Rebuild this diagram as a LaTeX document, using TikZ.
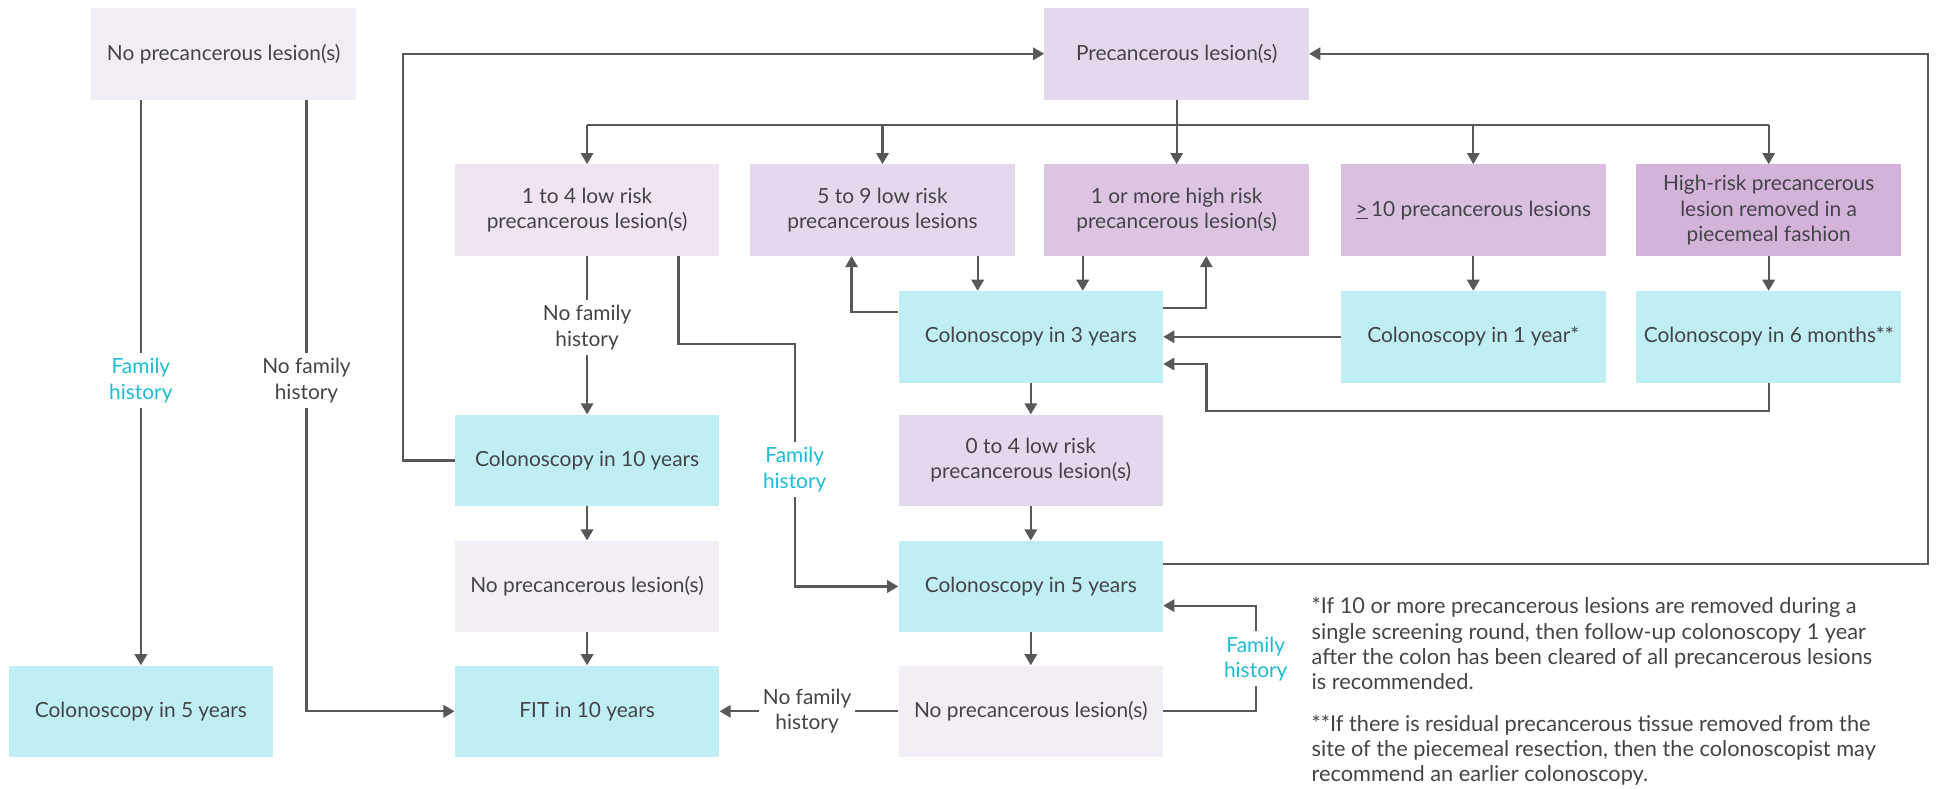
\documentclass[tikz,border=0pt]{standalone}
\usepackage{fontspec}
\setmainfont{Lato}
\usepackage{xcolor}
\usetikzlibrary{arrows.meta, calc}

\definecolor{lavpale}{HTML}{F3EEF6}
\definecolor{lavlight}{HTML}{F0E4F2}
\definecolor{lavmid}{HTML}{E6D8EC}
\definecolor{lavhigh}{HTML}{DCC5E2}
\definecolor{lavten}{HTML}{D9BFE0}
\definecolor{lavdeep}{HTML}{D4B3DB}
\definecolor{cyanbox}{HTML}{BFEEF4}
\definecolor{linegray}{HTML}{58585A}
\definecolor{txtgray}{HTML}{444448}
\definecolor{famcyan}{HTML}{1CBCD6}

\begin{document}
\begin{tikzpicture}[x=1pt, y=1pt,
		box/.style={rectangle, minimum width=214pt, minimum height=74pt, inner sep=0pt, align=center, text=txtgray},
		lbl/.style={align=center, inner sep=4pt, text=txtgray},
		fam/.style={lbl, text=famcyan},
		note/.style={anchor=north west, align=left, inner sep=0pt, text=txtgray, font=\fontsize{17.6}{20.6}\selectfont},
		arr/.style={-{Triangle[length=9pt,width=10pt]}},
		font=\fontsize{16.9}{20.5}\selectfont]
				\useasboundingbox (0,0) rectangle (1568,-638);
				\def\colA{114};
				\def\colB{475};
				\def\colC{714};
				\def\colD{834};
				\def\colE{952};
				\def\colF{1192};
				\def\colG{1431};

				% boxes
				\node [box, fill=lavpale] (nolestop) at (181,-43.5) {No precancerous lesion(s)};
				\node [box, fill=lavmid] (pl) at (\colE,-43.5) {Precancerous lesion(s)};

				\node [box, fill=lavlight] (lo14) at (\colB,-170) {1 to 4 low risk\\precancerous lesion(s)};
				\node [box, fill=lavmid] (lo59) at (\colC,-170) {5 to 9 low risk\\precancerous lesions};
				\node [box, fill=lavhigh] (hr) at (\colE,-170) {1 or more high risk\\precancerous lesion(s)};
				\node [box, fill=lavten] (ge10) at (\colF,-170) {\underline{>}\,10 precancerous lesions};
				\node [box, fill=lavdeep] (pw) at (\colG,-170) {High-risk precancerous\\lesion removed in a\\piecemeal fashion};

				\node [box, fill=cyanbox] (c3) at (\colD,-272.5) {Colonoscopy in 3 years};
				\node [box, fill=cyanbox] (c1) at (\colF,-272.5) {Colonoscopy in 1 year*};
				\node [box, fill=cyanbox] (c6) at (\colG,-272.5) {Colonoscopy in 6 months**};

				\node [box, fill=cyanbox] (c10) at (\colB,-372.5) {Colonoscopy in 10 years};
				\node [box, fill=lavmid] (lo04) at (\colD,-372.5) {0 to 4 low risk\\precancerous lesion(s)};

				\node [box, fill=lavpale] (nlm) at (\colB,-474.5) {No precancerous lesion(s)};
				\node [box, fill=cyanbox] (c5m) at (\colD,-474.5) {Colonoscopy in 5 years};

				\node [box, fill=cyanbox] (c5l) at (\colA,-575.5) {Colonoscopy in 5 years};
				\node [box, fill=cyanbox] (fit) at (\colB,-575.5) {FIT in 10 years};
				\node [box, fill=lavpale] (nlb) at (\colD,-575.5) {No precancerous lesion(s)};

				% branch labels
				\node [fam] (fh1) at (\colA,-308) {Family\\history};
				\node [lbl] (nfh1) at (248,-308) {No family\\history};
				\node [lbl] (nfh2) at (\colB,-265) {No family\\history};
				\node [fam] (fh2) at (643,-380) {Family\\history};
				\node [lbl, inner xsep=3pt] (nfh3) at (653,-575.5) {No family\\history};
				\node [fam] (fh3) at (1016,-533) {Family\\history};

				% notes
				\node [note] (note1) at (1061,-483)
					{*If 10 or more precancerous lesions are removed during a\\single screening round, then follow-up colonoscopy 1 year\\after the colon has been cleared of all precancerous lesions\\is recommended.};
				\node [note] (note2) at (1061,-578)
					{**If there is residual precancerous tissue removed from the\\site of the piecemeal resection, then the colonoscopist may\\recommend an earlier colonoscopy.};

				\begin{scope}[line width=1.8pt, draw=linegray, color=linegray]
					% from precancerous lesion(s)
					\coordinate (bus) at (0,-101);
					\draw (lo14.north |- bus) -- (pw.north |- bus);
					\draw [arr] (pl.south) -- (hr.north);
					\draw [arr] (lo14.north |- bus) -- (lo14.north);
					\draw [arr] (lo59.north |- bus) -- (lo59.north);
					\draw [arr] (ge10.north |- bus) -- (ge10.north);
					\draw [arr] (pw.north |- bus) -- (pw.north);

					% no precancerous lesion(s), top
					\draw (nolestop.south -| fh1) -- (fh1);
					\draw [arr] (fh1) -- (c5l.north);
					\draw (nolestop.south -| nfh1) -- (nfh1);
					\draw [arr] (nfh1) |- (fit.west);

					% 1 to 4 low risk
					\draw (lo14.south) -- (nfh2);
					\draw [arr] (nfh2) -- (c10.north);
					\draw ([xshift=74pt]lo14.south) -- ++(0,-71) -| (fh2);
					\draw [arr] (fh2) |- (c5m.west);

					% 3 years loop
					\draw [arr] ([xshift=77pt]lo59.south) -- ([xshift=77pt]lo59.south |- c3.north);
					\draw [arr] ([yshift=20pt]c3.west) -| ([xshift=-25pt]lo59.south);
					\draw [arr] ([xshift=-76pt]hr.south) -- ([xshift=-76pt]hr.south |- c3.north);
					\draw [arr] ([yshift=23pt]c3.east) -| ([xshift=24pt]hr.south);
					\draw [arr] (ge10.south) -- (c1.north);
					\draw [arr] (pw.south) -- (c6.north);
					\draw [arr] (c1.west) -- (c3.east);
					\draw [arr] (c6.south) -- ++(0,-23) -| ([xshift=35pt,yshift=-22pt]c3.east) -- ([yshift=-22pt]c3.east);
					\draw [arr] (c3.south) -- (lo04.north);
					\draw [arr] (lo04.south) -- (c5m.north);
					\draw [arr] (c5m.south) -- (nlb.north);

					% 10 years column
					\draw [arr] (c10.south) -- (nlm.north);
					\draw [arr] (nlm.south) -- (fit.north);
					\draw [arr] (c10.west) -- ++(-42,0) |- (pl.west);

					% back to precancerous lesion(s)
					\draw [arr] ([yshift=18.5pt]c5m.east) -- ++(619,0) |- (pl.east);

					% no precancerous lesion(s), bottom
					\draw (nlb.west) -- (nfh3);
					\draw [arr] (nfh3) -- (fit.east);
					\draw (nlb.east) -| (fh3);
					\draw [arr] (fh3) |- ([yshift=-15.5pt]c5m.east);
				\end{scope}
			\end{tikzpicture}
\end{document}
